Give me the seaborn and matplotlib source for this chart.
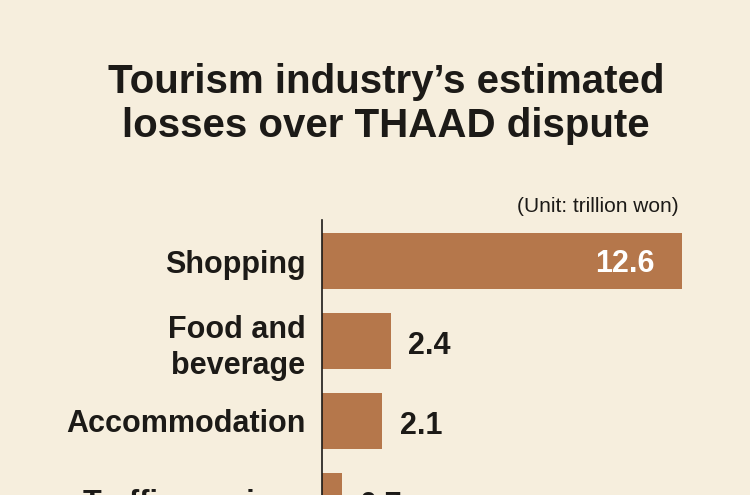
import matplotlib.pyplot as plt
import seaborn as sns
import pandas as pd

categories = ["Shopping", "Food and\nbeverage", "Accommodation", "Traffic services"]
losses = [12.6, 2.4, 2.1, 0.7]
value_labels = ["12.6", "2.4", "2.1", "0.7"]

BG = "#f6eedd"
BAR = "#b5774b"
INK = "#1c1a17"

df = pd.DataFrame({"category": categories, "loss": losses})

sns.set_style("white")
plt.rcParams['font.family'] = ['Liberation Sans', 'DejaVu Sans']

fig = plt.figure(figsize=(7.5, 4.95), dpi=100, facecolor=BG)
# axes runs past the bottom edge so the last row is cut off like the source
ax = fig.add_axes([322 / 750, -100 / 495, 418 / 750, 375 / 495])
ax.set_facecolor(BG)

sns.barplot(data=df, x="loss", y="category", color=BAR, width=0.69,
            saturation=1, linewidth=0, ax=ax, orient="h")

ax.set_xlim(0, 418 / 28.57)
ax.set_ylim((595 - 261) / 80, (220 - 261) / 80)
ax.set_xlabel("")
ax.set_ylabel("")
ax.set_xticks([])
ax.tick_params(axis="y", length=0, pad=12)
for lab in ax.get_yticklabels():
    lab.set_fontsize(22)
    lab.set_fontweight("bold")
    lab.set_color(INK)
    lab.set_linespacing(1.28)
for p in ["top", "right", "bottom"]:
    ax.spines[p].set_visible(False)
ax.spines["left"].set_color(INK)
ax.spines["left"].set_linewidth(1.2)

for i, (v, t) in enumerate(zip(losses, value_labels)):
    if i == 0:
        ax.text(v - 0.95, i + 0.04, t, ha="right", va="center", fontsize=22,
                fontweight="bold", color="white")
    else:
        ax.text(v + 0.62, i + 0.06, t, ha="left", va="center", fontsize=22,
                fontweight="bold", color=INK)

fig.text(386 / 750, 1 - 82 / 495, "Tourism industry\u2019s estimated",
         ha="center", va="center", fontsize=29, color=INK, fontweight="bold")
fig.text(386 / 750, 1 - 126 / 495, "losses over THAAD dispute",
         ha="center", va="center", fontsize=29, color=INK, fontweight="bold")
fig.text(679 / 750, 1 - 206 / 495, "(Unit: trillion won)",
         ha="right", va="center", fontsize=15, color=INK)

fig.savefig("out.png", dpi=100, facecolor=BG)
